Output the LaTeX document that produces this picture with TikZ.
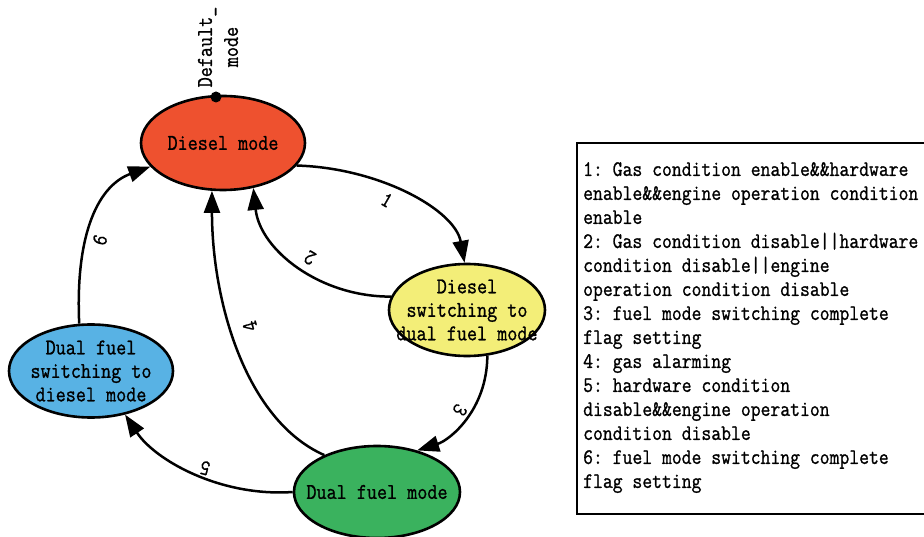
\documentclass[tikz,border=0pt]{standalone}
\usepackage{fontspec}
\setmonofont{Latin Modern Mono}[FakeBold=1.1]
\usetikzlibrary{shapes.geometric,arrows.meta}
\definecolor{cdiesel}{RGB}{238,81,47}
\definecolor{cyellow}{RGB}{243,238,120}
\definecolor{cblue}{RGB}{88,178,228}
\definecolor{cgreen}{RGB}{58,178,94}
\begin{document}
\begin{tikzpicture}[x=1pt,y=-1pt,
  st/.style={ellipse,draw=black,line width=2.6pt,inner sep=0pt},
  txt/.style={align=center,font=\ttfamily\fontsize{22.5}{23.5}\selectfont,inner sep=0pt,xscale=0.87},
  edge/.style={draw=black,line width=2.5pt,-{Triangle[length=22pt,width=16pt]}},
  lab/.style={font=\ttfamily\fontsize{22}{23}\selectfont,inner sep=0pt,xscale=0.87},
  legendtext/.style={align=left,font=\ttfamily\fontsize{22}{24}\selectfont,inner sep=0pt,anchor=north west,xscale=0.87}]
\useasboundingbox (0,0) rectangle (924,537);
\clip (0,0) rectangle (924,537);
% states
\node[st,fill=cdiesel,minimum width=164pt,minimum height=94pt] (dm) at (223,143) {};
\node[txt] (dmt) at (dm) {Diesel mode};
\node[st,fill=cyellow,minimum width=156pt,minimum height=92pt] (ds) at (467,310) {};
\node[txt] (dst) at (ds) {Diesel\\switching to\\dual fuel mode};
\node[st,fill=cblue,minimum width=164pt,minimum height=93pt] (dd) at (91,371) {};
\node[txt] (ddt) at (dd) {Dual fuel\\switching to\\diesel mode};
\node[st,fill=cgreen,minimum width=166pt,minimum height=92pt] (df) at (377,492) {};
\node[txt] (dft) at (df) {Dual fuel mode};
% initial marker
\node[circle,fill=black,inner sep=0pt,minimum size=11pt] (dot) at (216,97) {};
\node[rotate=90,txt,font=\ttfamily\fontsize{22.5}{26}\selectfont] (deflab) at (218,47) {Default\_\\mode};
% transitions
\draw[edge] (dm.-17) .. controls (380,168) and (455,210) .. (ds.93);
\draw[edge] (ds.170) .. controls (320,297) and (260,250) .. (dm.-56);
\draw[edge] (ds.-66) .. controls (487,410) and (450,440) .. (df.46);
\draw[edge] (df.145) .. controls (245,420) and (212,300) .. (dm.-103);
\draw[edge] (df.180) .. controls (220,497) and (155,460) .. (dd.-52);
\draw[edge] (dd.104) .. controls (75,230) and (100,185) .. (dm.-162);
% labels
\node[rotate=-30,lab] (l1) at (387,200) {1};
\node[rotate=150,lab] (l2) at (310,258) {2};
\node[rotate=-120,lab] (l3) at (460,410) {3};
\node[rotate=105,lab] (l4) at (250,326) {4};
\node[rotate=165,lab] (l5) at (205,468) {5};
\node[rotate=75,lab] (l6) at (100,240) {6};
% legend
\draw[line width=2pt] (577,143) rectangle (940,514);
\node[legendtext] (leg) at (583,162) {1: Gas condition enable\&\&hardware\\
enable\&\&engine operation condition\\
enable\\
2: Gas condition disable||hardware\\
condition disable||engine\\
operation condition disable\\
3: fuel mode switching complete\\
flag setting\\
4: gas alarming\\
5: hardware condition\\
disable\&\&engine operation\\
condition disable\\
6: fuel mode switching complete\\
flag setting};
\end{tikzpicture}
\end{document}
